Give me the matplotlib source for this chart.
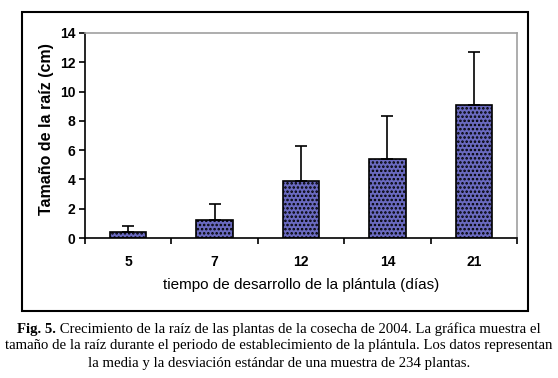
import numpy as np
import matplotlib.pyplot as plt
from matplotlib.patches import Rectangle

# datos
dias = ["5", "7", "12", "14", "21"]
media = [0.4, 1.25, 3.9, 5.4, 9.1]
desv = [0.4, 1.05, 2.4, 2.9, 3.6]

caption_bold = "Fig. 5."
caption_lines = [
    " Crecimiento de la raíz de las plantas de la cosecha de 2004. La gráfica muestra el",
    "tamaño de la raíz durante el periodo de establecimiento de la plántula. Los datos representan",
    "la media y la desviación estándar de una muestra de 234 plantas.",
]

plt.rcParams["hatch.color"] = "#c8c8ee"
plt.rcParams["hatch.linewidth"] = 1.2

fig = plt.figure(figsize=(5.58, 3.78), dpi=100)
W, H = 558, 378

# marco exterior
fig.patches.append(Rectangle((22 / W, 1 - 311 / H), (528 - 22) / W, (311 - 12) / H,
                             transform=fig.transFigure, fill=False,
                             edgecolor="black", linewidth=1.5))

ax = fig.add_axes([85 / W, 1 - 238 / H, (517 - 85) / W, (238 - 33) / H])
x = np.arange(len(dias))
ax.bar(x, media, width=0.42, color="#6a6ac0", edgecolor="black", linewidth=1.2,
       hatch="....", zorder=2)
ax.errorbar(x, media, yerr=[np.zeros(len(desv)), desv], fmt="none", ecolor="black",
            elinewidth=1.2, capsize=4, capthick=1.2, zorder=3)

ax.set_xlim(-0.5, len(dias) - 0.5)
ax.set_ylim(0, 14)
ax.set_yticks(range(0, 15, 2))
ax.set_xticks(x)
ax.set_xticklabels(dias, fontsize=10, fontweight="bold", family="Liberation Sans")
ax.set_xticks(np.arange(-0.5, len(dias)), minor=True)
ax.tick_params(axis="x", which="major", length=0, pad=12)
ax.tick_params(axis="x", which="minor", direction="out", length=4, width=1.2)
ax.tick_params(axis="y", direction="out", length=4, width=1.2, pad=3)
for lab in ax.get_yticklabels():
    lab.set_fontsize(10)
    lab.set_fontweight("bold")
    lab.set_family("Liberation Sans")

for s in ["top", "right"]:
    ax.spines[s].set_color("#a0a0a0")
    ax.spines[s].set_linewidth(1.2)
for s in ["left", "bottom"]:
    ax.spines[s].set_linewidth(1.2)

ax.set_ylabel("Tamaño de la raíz (cm)", fontsize=11.5, fontweight="bold",
              family="Liberation Sans", labelpad=2)
ax.yaxis.set_label_coords(-0.072, 0.53)
ax.set_xlabel("tiempo de desarrollo de la plántula (días)", fontsize=11,
              family="Liberation Sans", labelpad=7)

# pie de figura
cap_size = 10.6
ys = [329, 346, 364]
renderer = fig.canvas.get_renderer()
tb = fig.text(0, 0, caption_bold, fontsize=cap_size, fontweight="bold",
              family="Liberation Serif", va="center")
tr = fig.text(0, 0, caption_lines[0], fontsize=cap_size,
              family="Liberation Serif", va="center")
wb = tb.get_window_extent(renderer).width
wr = tr.get_window_extent(renderer).width
x0 = (W - wb - wr) / 2
tb.set_position((x0 / W, 1 - ys[0] / H))
tr.set_position(((x0 + wb) / W, 1 - ys[0] / H))
for i, line in enumerate(caption_lines[1:], start=1):
    fig.text(0.5, 1 - ys[i] / H, line, ha="center", va="center",
             fontsize=cap_size, family="Liberation Serif")

fig.savefig("out.png", dpi=100)
